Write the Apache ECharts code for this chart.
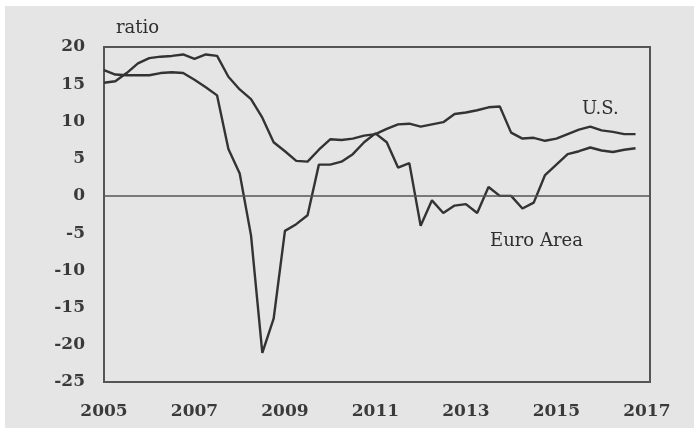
<!DOCTYPE html>
<html>
<head>
<meta charset="utf-8">
<script src="https://cdn.jsdelivr.net/npm/echarts@6/dist/echarts.min.js"></script>
<style>
html,body{margin:0;padding:0;background:#ffffff;width:694px;height:428px;overflow:hidden;}
#bg{position:absolute;left:5px;top:6px;right:0;bottom:0;background:#e5e5e5;}
#chart{position:absolute;left:0;top:0;width:694px;height:428px;}
</style>
</head>
<body>
<div id="bg"></div>
<div id="chart"></div>
<script>
// Quarterly observations, 2005Q1 .. 2016Q4 (years since 2005)
const quarterOffsets = Array.from({length: 48}, (_, i) => i * 0.25);
const usValues = [
  15.2, 15.4, 16.5, 17.8, 18.5, 18.7, 18.8, 19.0, 18.4, 19.0, 18.8, 16.0,
  14.3, 13.0, 10.5, 7.2, 6.0, 4.7, 4.6, 6.2, 7.6, 7.5, 7.7, 8.1,
  8.3, 9.0, 9.6, 9.7, 9.3, 9.6, 9.9, 11.0, 11.2, 11.5, 11.9, 12.0,
  8.5, 7.7, 7.8, 7.4, 7.7, 8.3, 8.9, 9.3, 8.8, 8.6, 8.3, 8.3
];
const euroValues = [
  16.9, 16.3, 16.2, 16.2, 16.2, 16.5, 16.6, 16.5, 15.6, 14.6, 13.5, 6.3,
  3.0, -5.3, -21.1, -16.5, -4.7, -3.8, -2.6, 4.2, 4.2, 4.6, 5.6, 7.2,
  8.4, 7.2, 3.8, 4.4, -4.0, -0.6, -2.3, -1.3, -1.1, -2.3, 1.2, 0.0,
  0.0, -1.7, -0.9, 2.8, 4.2, 5.6, 6.0, 6.5, 6.1, 5.9, 6.2, 6.4
];
const baseYear = 2005;
const yTicks = [-25, -20, -15, -10, -5, 0, 5, 10, 15, 20];
const seriesNames = ['U.S.', 'Euro Area'];
const yAxisTitle = 'ratio';

const font = '"DejaVu Serif", "Liberation Serif", serif';
const ink = '#2e2e2e';

const chart = echarts.init(document.getElementById('chart'), null, {renderer: 'canvas'});
chart.setOption({
  backgroundColor: 'transparent',
  animation: false,
  grid: {left: 104, top: 47, right: 44, bottom: 46, show: true, borderColor: '#555', borderWidth: 2, backgroundColor: 'transparent'},
  xAxis: {
    type: 'value', min: 0, max: 12.07, interval: 2,
    axisLine: {show: false}, axisTick: {show: false}, splitLine: {show: false},
    axisLabel: {
      margin: 21, fontFamily: font, fontSize: 17, fontWeight: 'bold', color: '#3a3a3a',
      formatter: v => (Math.abs(v - Math.round(v)) < 1e-6 && Math.round(v) % 2 === 0) ? String(baseYear + Math.round(v)) : ''
    }
  },
  yAxis: {
    type: 'value', min: yTicks[0], max: yTicks[yTicks.length - 1], interval: 5,
    axisLine: {show: false}, axisTick: {show: false}, splitLine: {show: false},
    axisLabel: {margin: 19, fontFamily: font, fontSize: 17, fontWeight: 'bold', color: '#3a3a3a', padding: [6, 0, 0, 0]}
  },
  graphic: [
    {type: 'text', left: 116, top: 19, style: {text: yAxisTitle, font: '18px ' + font, fill: ink}},
    {type: 'text', left: 582, top: 100, style: {text: seriesNames[0], font: '18px ' + font, fill: ink}},
    {type: 'text', left: 490, top: 232, style: {text: seriesNames[1], font: '18px ' + font, fill: ink}}
  ],
  series: [
    {
      name: seriesNames[0], type: 'line', showSymbol: false,
      data: quarterOffsets.map((x, i) => [x, usValues[i]]),
      lineStyle: {color: '#333', width: 2.4}, z: 3,
      markLine: {
        silent: true, symbol: 'none', label: {show: false},
        lineStyle: {color: '#555', width: 1.5, type: 'solid'},
        data: [{yAxis: 0}]
      }
    },
    {
      name: seriesNames[1], type: 'line', showSymbol: false,
      data: quarterOffsets.map((x, i) => [x, euroValues[i]]),
      lineStyle: {color: '#333', width: 2.4}, z: 3
    }
  ]
});
</script>
</body>
</html>
